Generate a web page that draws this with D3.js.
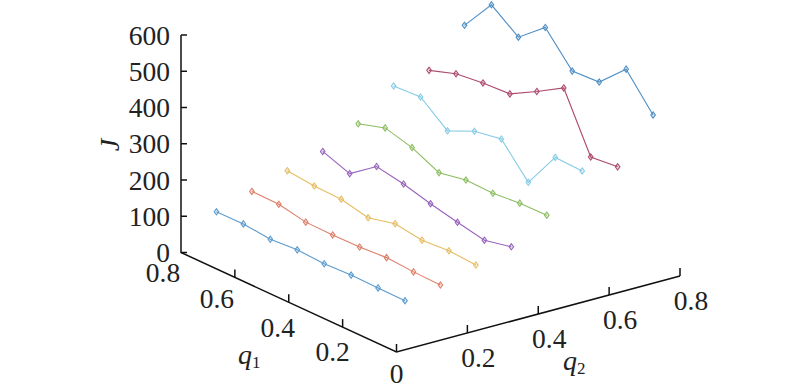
<!DOCTYPE html>
<html>
<head>
<meta charset="utf-8">
<script src="https://cdn.jsdelivr.net/npm/d3@7"></script>
<style>
html,body{margin:0;padding:0;background:#fff;overflow:hidden}
text{font-family:"Liberation Serif","Times New Roman",serif;fill:#222}
</style>
</head>
<body>
<svg id="chart" width="800" height="391"></svg>
<script>
const q1Values = [0.8, 0.7, 0.6, 0.5, 0.4, 0.3, 0.2, 0.1];
const q2Series = [0.1, 0.2, 0.3, 0.4, 0.5, 0.6, 0.7, 0.8];
const J1 = [86, 87, 79, 84, 80, 83, 82, 81];
const J2 = [116, 115, 100, 99, 100, 105, 100, 98];
const J3 = [147, 139, 137, 120, 138, 127, 132, 127];
const J4 = [174, 147, 201, 187, 167, 150, 135, 151];
const J5 = [224, 247, 227, 192, 206, 204, 211, 212];
const J6 = [302, 306, 247, 280, 293, 208, 311, 308];
const J7 = [319, 344, 353, 357, 398, 442, 286, 293];
const J8 = [417, 508, 453, 514, 428, 432, 502, 410];
const seriesJ = [J1, J2, J3, J4, J5, J6, J7, J8];
const colors = ["#5b9bcf", "#dc7f68", "#e6bd62", "#9763bd", "#8dbd62", "#86cce6", "#ad4a70", "#4f8fc4"];
const jTicks = [0, 100, 200, 300, 400, 500, 600];
const q1Ticks = [0.8, 0.6, 0.4, 0.2];
const q2Ticks = [0.2, 0.4, 0.6, 0.8];

const svg = d3.select("#chart");
// oblique projection: each data axis contributes a screen offset
const q1X = d3.scaleLinear().domain([0, 0.8]).range([0, -215.5]);
const q1Y = d3.scaleLinear().domain([0, 0.8]).range([0, -99.5]);
const q2X = d3.scaleLinear().domain([0, 0.8]).range([0, 283.5]);
const q2Y = d3.scaleLinear().domain([0, 0.8]).range([0, -76]);
const jY = d3.scaleLinear().domain([0, 600]).range([252.5, 35]);
const ox = 396.5, oy = 352;
const px = (a, b) => ox + q1X(a) + q2X(b);
const py = (a, b, j) => oy + q1Y(a) + q2Y(b) + (jY(j) - jY(0));

const ink = "#111";
const axes = svg.append("g").attr("fill", "none").attr("stroke", ink).attr("stroke-width", 1.5);
axes.append("path").attr("d", d3.line()([
  [px(0.8, 0), jY(600)], [px(0.8, 0), jY(0)], [px(0, 0), py(0, 0, 0)], [px(0, 0.8), py(0, 0.8, 0)]
]));
const tickLen = 8;
jTicks.forEach(j => axes.append("line")
  .attr("x1", px(0.8, 0)).attr("x2", px(0.8, 0) + 6).attr("y1", jY(j)).attr("y2", jY(j)));
[0.6, 0.4, 0.2, 0].forEach(a => axes.append("line")
  .attr("x1", px(a, 0)).attr("x2", px(a, 0))
  .attr("y1", py(a, 0, 0)).attr("y2", py(a, 0, 0) - tickLen));
q2Ticks.forEach(b => axes.append("line")
  .attr("x1", px(0, b)).attr("x2", px(0, b))
  .attr("y1", py(0, b, 0)).attr("y2", py(0, b, 0) - tickLen));

const fs = 27.5;
const label = (x, y, s, anchor) => svg.append("text")
  .attr("x", x).attr("y", y).attr("font-size", fs)
  .attr("text-anchor", anchor || "middle").attr("dominant-baseline", "central").text(s);

jTicks.forEach(j => label(170, jY(j), j, "end"));
const q1Off = [[-18, 19.5], [-18, 21.6], [-11, 25], [-10, 24]];
q1Ticks.forEach((a, i) => label(px(a, 0) + q1Off[i][0], py(a, 0, 0) + q1Off[i][1], a.toFixed(1)));
label(px(0, 0), py(0, 0, 0) + 21, "0");
q2Ticks.forEach(b => label(px(0, b) + 11, py(0, b, 0) + 24, b.toFixed(1)));

function subLabel(x, y, main, sub) {
  const t = svg.append("text").attr("x", x).attr("y", y).attr("font-size", 28);
  t.append("tspan").attr("font-style", "italic").text(main);
  t.append("tspan").attr("font-size", 17).attr("dy", 4).text(sub);
}
subLabel(238, 364, "q", "1");
subLabel(563, 370, "q", "2");
svg.append("text").attr("transform", "translate(119,145) rotate(-90)")
  .attr("font-size", 28).attr("font-style", "italic").attr("text-anchor", "middle").text("J");

const symbol = d3.symbol().type(d3.symbolDiamond).size(14);
seriesJ.forEach((vals, s) => {
  const b = q2Series[s];
  const pts = vals.map((j, i) => [px(q1Values[i], b), py(q1Values[i], b, j)]);
  const g = svg.append("g");
  g.append("path").attr("d", d3.line()(pts)).attr("fill", "none")
    .attr("stroke", colors[s]).attr("stroke-width", 1.1);
  g.selectAll("path.m").data(pts).join("path").attr("class", "m")
    .attr("d", symbol)
    .attr("transform", d => `translate(${d[0]},${d[1]}) scale(1.15,0.9)`)
    .attr("fill", colors[s]).attr("fill-opacity", 0.2)
    .attr("stroke", colors[s]).attr("stroke-width", 1);
});
</script>
</body>
</html>
